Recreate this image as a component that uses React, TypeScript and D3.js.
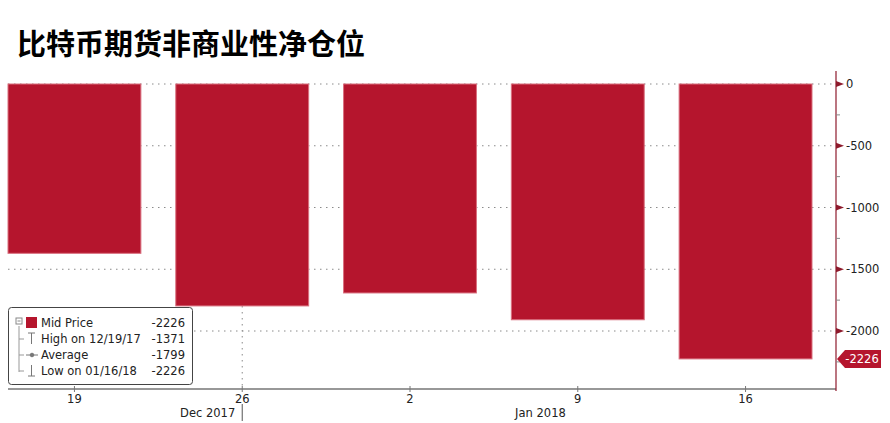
import React from "react";
import * as d3 from "d3";

const categories = ["19", "26", "2", "9", "16"];
const values = [-1371, -1797, -1692, -1909, -2226];
const yTicks = [0, -500, -1000, -1500, -2000];
const yMinorTicks = [-250, -750, -1250, -1750, -2250];
const monthLabels = [
  { label: "Dec 2017", at: "26", align: "end" },
  { label: "Jan 2018", at: "9", align: "end" },
];
const legendRows = [
  { icon: "box", label: "Mid Price", value: "-2226" },
  { icon: "high", label: "High on 12/19/17", value: "-1371" },
  { icon: "avg", label: "Average", value: "-1799" },
  { icon: "low", label: "Low on 01/16/18", value: "-2226" },
];
const title = "比特币期货非商业性净仓位";
const lastValue = "-2226";

const W = 890;
const H = 423;
const BAR = "#b5152d";
const DARKRED = "#8e1a2c";
const FONT = "'DejaVu Sans', sans-serif";

export default function App() {
  const x = d3
    .scaleBand<string>()
    .domain(categories)
    .range([8, 812])
    .paddingInner(0.208)
    .paddingOuter(0);
  const y = d3.scaleLinear().domain([0, -2000]).range([84, 331]);
  const axisX = 836;
  const axisY = 389;
  const lastY = y(values[values.length - 1]);

  return (
    <svg
      width={W}
      height={H}
      style={{ position: "absolute", left: 0, top: 0, background: "#fff" }}
    >
      <rect x={0} y={0} width={W} height={H} fill="#fff" />
      <text
        x={17}
        y={55}
        fontFamily="'Noto Sans CJK SC', sans-serif"
        fontWeight={700}
        fontSize={29}
        fill="#000"
      >
        {title}
      </text>

      {/* gridlines */}
      {yTicks.map((t) => (
        <line
          key={"g" + t}
          x1={8}
          x2={axisX}
          y1={y(t)}
          y2={y(t)}
          stroke="#8a8a8a"
          strokeWidth={1}
          strokeDasharray="1.5,4.5"
        />
      ))}
      <line
        x1={(x("26") as number) + x.bandwidth() / 2}
        x2={(x("26") as number) + x.bandwidth() / 2}
        y1={84}
        y2={axisY}
        stroke="#8a8a8a"
        strokeDasharray="1.5,4.5"
      />

      {/* bars */}
      {categories.map((c, i) => (
        <rect
          key={c}
          x={x(c) as number}
          y={y(0)}
          width={x.bandwidth()}
          height={y(values[i]) - y(0)}
          fill={BAR}
          stroke="#d9707f"
          strokeWidth={1}
        />
      ))}

      {/* x axis */}
      <line x1={8} x2={axisX} y1={axisY} y2={axisY} stroke="#333" strokeWidth={1.2} />
      {categories.map((c) => {
        const cx = (x(c) as number) + x.bandwidth() / 2;
        return (
          <g key={"xt" + c}>
            <line x1={cx} x2={cx} y1={axisY - 3} y2={axisY + 3} stroke="#777" />
            <text
              x={cx}
              y={403}
              textAnchor="middle"
              fontFamily={FONT}
              fontSize={11.5}
              fill="#222"
            >
              {c}
            </text>
          </g>
        );
      })}
      {monthLabels.map((m) => {
        const cx = (x(m.at) as number) + x.bandwidth() / 2;
        return (
          <g key={m.label}>
            {m.at === "26" && (
              <line x1={cx} x2={cx} y1={404} y2={421} stroke="#555" />
            )}
            <text
              x={m.at === "26" ? cx - 7 : cx - 12}
              y={417}
              textAnchor="end"
              fontFamily={FONT}
              fontSize={11.5}
              fill="#222"
            >
              {m.label}
            </text>
          </g>
        );
      })}

      {/* y axis */}
      <line x1={axisX} x2={axisX} y1={71} y2={axisY + 2} stroke={DARKRED} strokeWidth={1.2} />
      {yMinorTicks.map((t) => (
        <line
          key={"m" + t}
          x1={axisX}
          x2={axisX + 4}
          y1={y(t)}
          y2={y(t)}
          stroke="#888"
        />
      ))}
      {yTicks.map((t) => (
        <g key={"yt" + t}>
          <path
            d={`M${axisX},${y(t) - 3} L${axisX + 8},${y(t)} L${axisX},${y(t) + 3} Z`}
            fill={DARKRED}
          />
          <text
            x={axisX + 10}
            y={y(t) + 4}
            fontFamily={FONT}
            fontSize={11.5}
            fill="#222"
          >
            {t === 0 ? "0" : "-" + Math.abs(t)}
          </text>
        </g>
      ))}

      {/* last value tag */}
      <path
        d={`M${axisX + 1},${lastY} L${axisX + 9},${lastY - 9} L${881},${lastY - 9} L${881},${lastY + 9} L${axisX + 9},${lastY + 9} Z`}
        fill={BAR}
      />
      <text
        x={862}
        y={lastY + 4}
        textAnchor="middle"
        fontFamily={FONT}
        fontSize={11.5}
        fill="#fff"
      >
        {lastValue}
      </text>

      {/* legend */}
      <rect
        x={8.5}
        y={307.5}
        width={184}
        height={77}
        rx={3}
        fill="#fff"
        stroke="#444"
        strokeWidth={1}
      />
      <line x1={19} x2={19} y1={326} y2={372} stroke="#999" />
      <rect x={16} y={318} width={6} height={6} fill="#fff" stroke="#888" />
      <line x1={17.5} x2={20.5} y1={321} y2={321} stroke="#888" />
      {legendRows.map((r, i) => {
        const ry = 323 + i * 16;
        return (
          <g key={r.label}>
            {i > 0 && <line x1={19} x2={24} y1={ry} y2={ry} stroke="#999" />}
            {r.icon === "box" && (
              <rect x={26} y={ry - 6} width={11} height={11} fill={BAR} />
            )}
            {r.icon === "high" && (
              <g stroke="#777">
                <line x1={28} x2={35} y1={ry - 6} y2={ry - 6} />
                <line x1={31.5} x2={31.5} y1={ry - 6} y2={ry + 5} />
              </g>
            )}
            {r.icon === "avg" && (
              <g stroke="#777">
                <line x1={26} x2={38} y1={ry} y2={ry} />
                <circle cx={32} cy={ry} r={1.8} fill="#777" />
              </g>
            )}
            {r.icon === "low" && (
              <g stroke="#777">
                <line x1={28} x2={35} y1={ry + 5} y2={ry + 5} />
                <line x1={31.5} x2={31.5} y1={ry - 6} y2={ry + 5} />
              </g>
            )}
            <text x={41} y={ry + 4} fontFamily={FONT} fontSize={11.5} fill="#222">
              {r.label}
            </text>
            <text
              x={185}
              y={ry + 4}
              textAnchor="end"
              fontFamily={FONT}
              fontSize={11.5}
              fill="#222"
            >
              {r.value}
            </text>
          </g>
        );
      })}
    </svg>
  );
}
